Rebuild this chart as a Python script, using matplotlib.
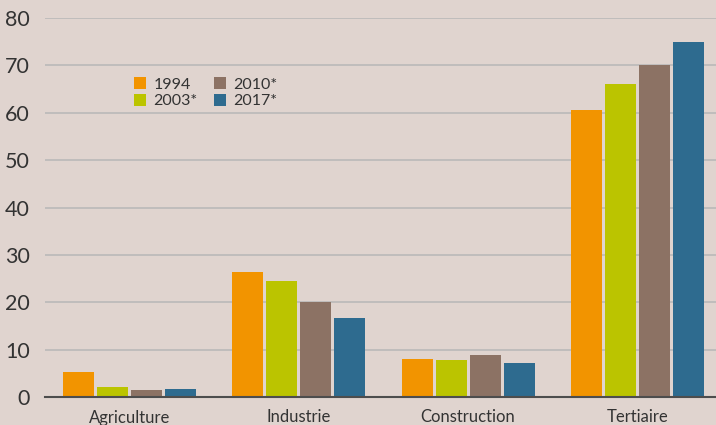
import matplotlib.pyplot as plt
import numpy as np

categories = ['Agriculture', 'Industrie', 'Construction', 'Tertiaire']
series = ['1994', '2003*', '2010*', '2017*']
v1994 = [5.3, 26.4, 8.0, 60.5]
v2003 = [2.1, 24.5, 7.8, 66.0]
v2010 = [1.5, 20.0, 8.9, 70.0]
v2017 = [1.7, 16.7, 7.2, 74.9]
yticks = [0, 10, 20, 30, 40, 50, 60, 70, 80]

colors = ['#F29400', '#BBC400', '#8C7264', '#2E6B8F']
bg = '#E0D4CF'

plt.rcParams['font.family'] = ['Lato', 'DejaVu Sans']

fig = plt.figure(figsize=(7.16, 4.25), dpi=100, facecolor=bg)
ax = fig.add_axes([45 / 716, 1 - 397 / 425, 671 / 716, 379 / 425])
ax.set_facecolor(bg)

x = np.arange(len(categories))
step = 0.201
width = 0.183
for i, (vals, lab) in enumerate(zip([v1994, v2003, v2010, v2017], series)):
    ax.bar(x + (i - 1.5) * step, vals, width, color=colors[i], label=lab, zorder=3)

ax.set_xlim(-0.5, 3.465)
ax.set_ylim(0, 80)
ax.set_yticks(yticks)
ax.set_xticks(x)
ax.set_xticklabels(categories, fontsize=12, color='#333333')
ax.tick_params(axis='y', length=0, pad=11, labelsize=15.5, labelcolor='#333333')
ax.tick_params(axis='x', length=0, pad=9)
for s in ['top', 'right', 'left']:
    ax.spines[s].set_visible(False)
ax.spines['bottom'].set_color('#4d4d4d')
ax.spines['bottom'].set_linewidth(1.5)
ax.spines['bottom'].set_zorder(4)
ax.yaxis.grid(True, color='#BDBBBA', linewidth=1.3, zorder=0)
ax.set_axisbelow(True)

ax.legend(ncol=2, loc='upper left', bbox_to_anchor=(0.12, 0.865), frameon=False,
          fontsize=11.5, handlelength=0.8, handleheight=0.8, handletextpad=0.45,
          columnspacing=1.0, labelspacing=0.12, borderpad=0, labelcolor='#333333')

fig.savefig('out.png', dpi=100, facecolor=bg)
